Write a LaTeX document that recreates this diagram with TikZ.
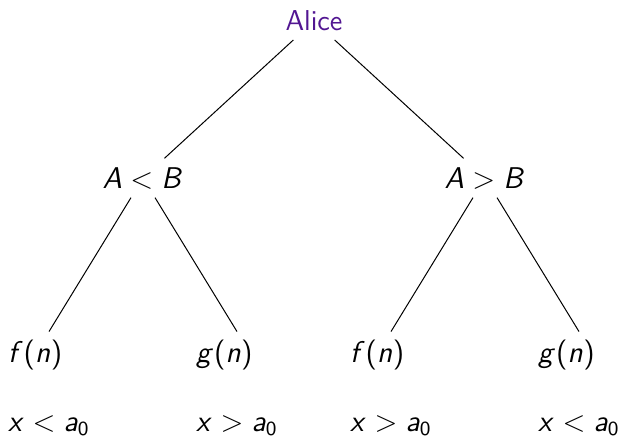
\documentclass[tikz,border=0pt]{standalone}
\usepackage{tikz}
\usetikzlibrary{positioning}
\renewcommand{\familydefault}{\sfdefault}
% sans serif math letters, as on slides
\DeclareSymbolFont{sfitalic}{OT1}{cmss}{m}{sl}
\SetSymbolFont{operators}{normal}{OT1}{cmss}{m}{n}
\DeclareMathSymbol{A}{\mathalpha}{sfitalic}{`A}
\DeclareMathSymbol{B}{\mathalpha}{sfitalic}{`B}
\DeclareMathSymbol{a}{\mathalpha}{sfitalic}{`a}
\DeclareMathSymbol{f}{\mathalpha}{sfitalic}{`f}
\DeclareMathSymbol{g}{\mathalpha}{sfitalic}{`g}
\DeclareMathSymbol{n}{\mathalpha}{sfitalic}{`n}
\DeclareMathSymbol{x}{\mathalpha}{sfitalic}{`x}
\definecolor{alicepurple}{RGB}{82, 22, 146}
\tikzset{
  every node/.style={
    font=\fontsize{11.5pt}{13.8pt}\selectfont
  },
  rootNode/.style={
    text=alicepurple
  },
  testNode/.style={
    inner sep=3.33pt
  },
  leafNode/.style={
    align=left,
    inner sep=3.33pt
  },
  every edge/.style={
    draw=black,
    thin
  }
}

\begin{document}
\begin{tikzpicture}[on grid]
      \useasboundingbox (0,0) rectangle (248pt,-174.8pt);
      \node[rootNode] (alice) at (125.6pt,-8.4pt) {Alice};
      \node[testNode] (altb) [below left=62.8pt and 68.4pt of alice] {$A < B$};
      \node[testNode] (agtb) [below right=62.8pt and 68.4pt of alice] {$A > B$};

      \node[leafNode] (f1) [below left=84pt and 37.6pt of altb] {$f(n)$\\[13.5pt]$x < a_0$};
      \node[leafNode] (g1) [below right=84pt and 37.6pt of altb] {$g(n)$\\[13.5pt]$x > a_0$};
      \node[leafNode] (f2) [below left=84pt and 37.6pt of agtb] {$f(n)$\\[13.5pt]$x > a_0$};
      \node[leafNode] (g2) [below right=84pt and 37.6pt of agtb] {$g(n)$\\[13.5pt]$x < a_0$};

      \path
      (alice) edge (altb)
              edge (agtb)
      (altb) edge (f1.north)
             edge (g1.north)
      (agtb) edge (f2.north)
             edge (g2.north);
    \end{tikzpicture}
\end{document}
